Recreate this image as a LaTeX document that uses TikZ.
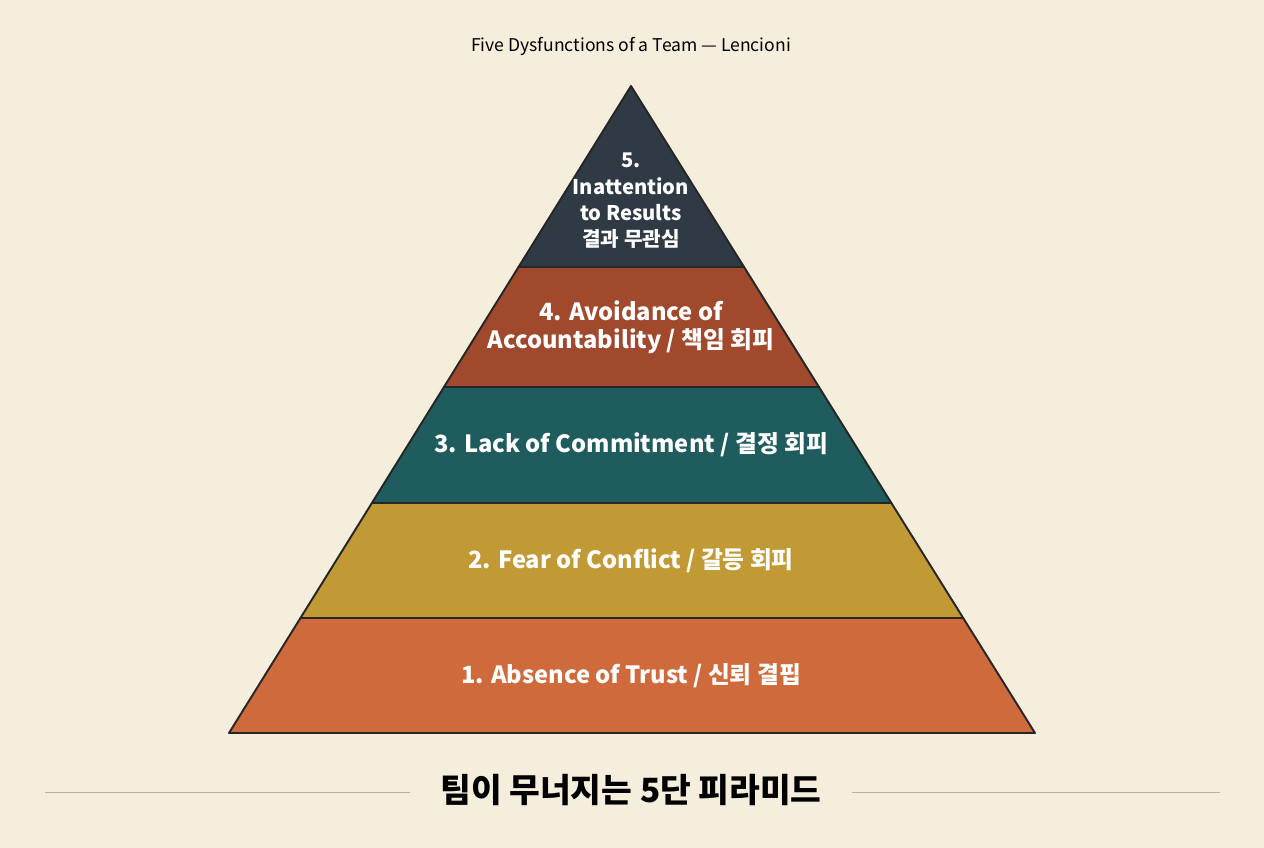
\documentclass[tikz,border=0pt]{standalone}
\usepackage{fontspec}
\setmainfont{Noto Sans CJK KR}
\usetikzlibrary{calc}
\usetikzlibrary{positioning}
\definecolor{paper}{HTML}{F5EEDD}
\definecolor{tiertop}{HTML}{2F3A45}
\definecolor{tierfour}{HTML}{A0492C}
\definecolor{tierthree}{HTML}{1F5C5E}
\definecolor{tiertwo}{HTML}{C29A35}
\definecolor{tierone}{HTML}{CF6A3C}
\tikzset{
  tier/.style={draw=black!85,line width=1.1pt,line join=round},
  tierlabel/.style={text=white,font=\bfseries\fontsize{13.5}{16}\selectfont,align=center},
  rule/.style={draw=black!30,line width=0.4pt}
}
\begin{document}
\begin{tikzpicture}[x=0.02cm,y=-0.02cm]
		\fill[paper] (0,0) rectangle (1264,848);
		\useasboundingbox (0,0) rectangle (1264,848);
		% Corners of the pyramid
		\coordinate (apex) at (631,86);
		\coordinate (bl) at (229,733);
		\coordinate (br) at (1035,733);
		\foreach \n/\t in {a/0.2798,b/0.4652,c/0.6445,d/0.8223} {
			\coordinate (l\n) at ($(apex)!\t!(bl)$);
			\coordinate (r\n) at ($(apex)!\t!(br)$);
		}
		% Tiers
		\filldraw[tier,fill=tierone] (ld) -- (rd) -- (br) -- (bl) -- cycle;
		\filldraw[tier,fill=tiertwo] (lc) -- (rc) -- (rd) -- (ld) -- cycle;
		\filldraw[tier,fill=tierthree] (lb) -- (rb) -- (rc) -- (lc) -- cycle;
		\filldraw[tier,fill=tierfour] (la) -- (ra) -- (rb) -- (lb) -- cycle;
		\filldraw[tier,fill=tiertop] (apex) -- (ra) -- (la) -- cycle;
		% Labels
		\node[tierlabel,font=\bfseries\fontsize{11.5}{15}\selectfont] (five) at (631,201) {5.\\Inattention\\to Results\\결과 무관심};
		\node[tierlabel] (four) at (631,327) {4. Avoidance of\\Accountability / 책임 회피};
		\node[tierlabel] (three) at (631,445) {3. Lack of Commitment / 결정 회피};
		\node[tierlabel] (two) at (631,561) {2. Fear of Conflict / 갈등 회피};
		\node[tierlabel] (one) at (631,676) {1. Absence of Trust / 신뢰 결핍};
		% Titles
		\node[font=\fontsize{10}{12}\selectfont] (head) at (631,46) {Five Dysfunctions of a Team — Lencioni};
		\node[font=\bfseries\fontsize{19}{22}\selectfont] (foot) at (631,790) {팀이 무너지는 5단 피라미드};
		\coordinate (ruleL) at (45,792);
		\coordinate (ruleR) at (1220,792);
		\draw[rule] (ruleL) -- (ruleL -| 410,0);
		\draw[rule] (ruleR) -- (ruleR -| 852,0);
\end{tikzpicture}
\end{document}
